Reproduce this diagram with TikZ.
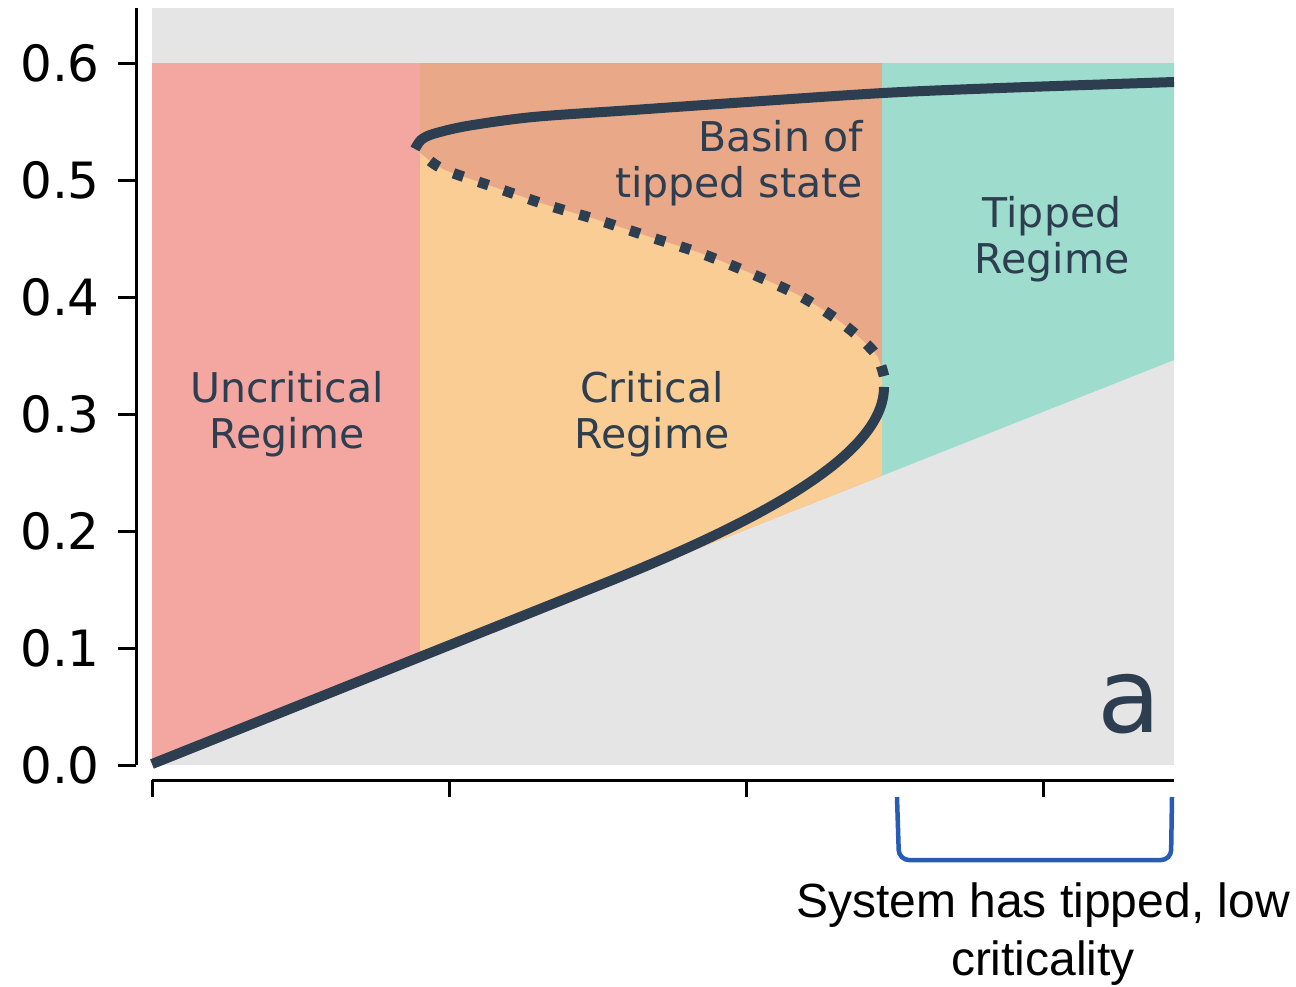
\documentclass[tikz,border=0pt]{standalone}
\usepackage{fontspec}
\setmainfont{DejaVu Sans}
\newfontfamily\arialfont{Liberation Sans}
\definecolor{bggray}{HTML}{E5E5E5}
\definecolor{redreg}{RGB}{244,167,160}
\definecolor{salmonreg}{RGB}{233,169,136}
\definecolor{orangereg}{RGB}{249,205,148}
\definecolor{tealreg}{RGB}{158,220,205}
\definecolor{curvecol}{RGB}{44,62,80}
\definecolor{bracketcol}{RGB}{40,92,180}
\tikzset{
  curve/.style={line width=10pt, draw=curvecol, line join=round},
  dotcurve/.style={line width=10.5pt, draw=curvecol, dash pattern=on 10.5pt off 16pt},
  lbl/.style={font=\fontsize{41}{46}\selectfont, text=curvecol, align=center, inner sep=0pt},
  axisline/.style={line width=3pt, draw=black},
  ticklbl/.style={font=\fontsize{50}{55}\selectfont, anchor=east, inner sep=0pt},
  bracket/.style={line width=4.5pt, draw=bracketcol, rounded corners=10pt},
}
\begin{document}
\begin{tikzpicture}[x=1pt,y=-1pt]
\useasboundingbox (0,0) rectangle (1296,986);
% background of the axes
\fill[bggray] (152,8) rectangle (1174,765);
% regions
\fill[redreg] (152,63) -- (420,63) -- (420,658.8) -- (152,765) -- cycle;
\fill[salmonreg] (420,63) -- (882,63) -- (882,475.7) -- (420,658.8) -- cycle;
\fill[tealreg] (882,63) -- (1174,63) -- (1174,360) -- (882,475.7) -- cycle;
\begin{scope}
  \clip (420,63) rectangle (882,800);
  \fill[orangereg] (418,151) -- plot[smooth] coordinates {(425,157) (445,170) (497,188) (547,205) (598,220) (650,237) (700,253) (750,273) (800,296) (835,318) (860,338) (877,356) (884,378)} -- (884,475) -- (420,658.8) -- cycle;
\end{scope}
% curves
\draw[curve] (152,764) -- (600,585) .. controls (760,521) and (884,455) .. (884,387);
\draw[dotcurve] plot[smooth] coordinates {(884,376) (877,356) (860,338) (835,318) (800,296) (750,273) (700,253) (650,237) (598,220) (547,205) (497,188) (445,170) (425,157) (418,151)};
\draw[curve] plot[smooth] coordinates {(415,149) (421,140) (433,134) (467,126) (533,117) (633,110) (733,103) (883,93) (1000,88) (1174,82)};
% labels
\node[lbl, anchor=base] (uncrit) at (287,448) {Uncritical\\Regime};
\node[lbl, anchor=base] (crit) at (652,448) {Critical\\Regime};
\node[lbl, anchor=base east, align=right] (basin) at (863,197) {Basin of\\tipped state};
\node[lbl, anchor=base] (tipped) at (1052,273) {Tipped\\Regime};
\node[font=\fontsize{104}{110}\selectfont, text=curvecol, inner sep=0pt, anchor=base] (panel) at (1129,732) {a};
% axes
\coordinate (ytop) at (136,8);
\coordinate (ybot) at (136,765);
\draw[axisline] (ytop) -- (ybot);
\coordinate (xleft) at (152,780);
\coordinate (xright) at (1174,780);
\draw[axisline] (xleft) -- (xright);
\foreach \v/\yy in {0.0/765,0.1/648,0.2/531,0.3/414,0.4/297,0.5/180,0.6/63}{
  \draw[axisline] (118,\yy) -- (136,\yy);
  \node[ticklbl] at (100,\yy) {\v};
}
\foreach \xx in {152,449,746,1043}{
  \draw[axisline] (\xx,780) -- (\xx,797);
}
% bracket
\coordinate (bl) at (897,797);
\coordinate (br) at (1172,797);
\draw[bracket] (bl) -- (899,860) -- (1171,860) -- (br);
\node[font=\arialfont\fontsize{48}{58}\selectfont, align=center, inner sep=0pt, anchor=base] (note) at (1043,975) {System has tipped, low\\criticality};
\end{tikzpicture}
\end{document}
